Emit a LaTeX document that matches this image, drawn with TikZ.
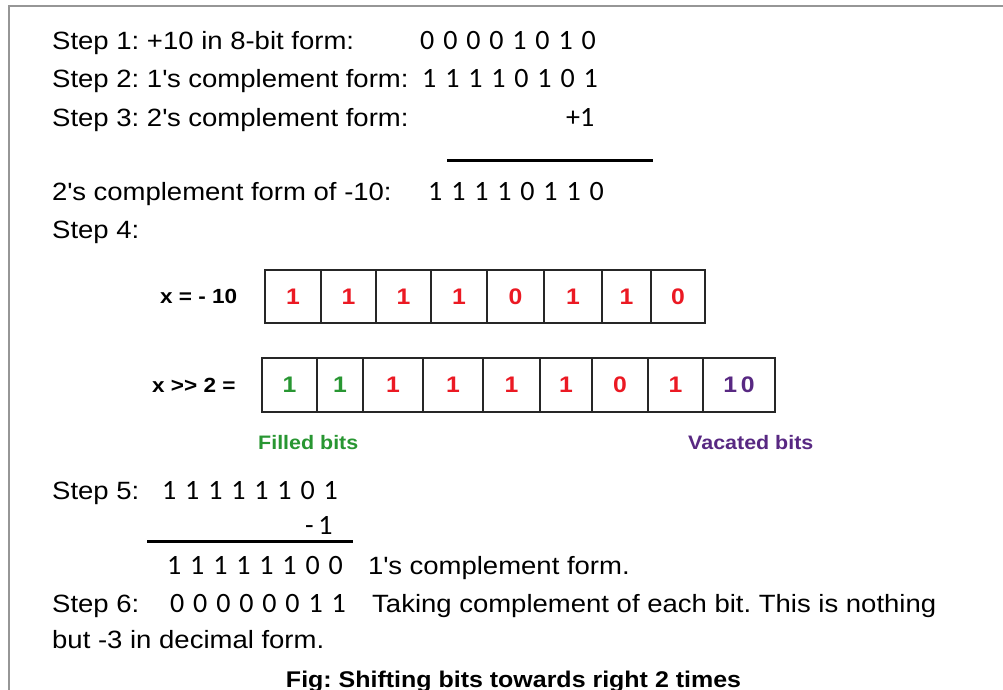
\documentclass[tikz,border=0pt]{standalone}
\usepackage{fontspec}
\setmainfont{Liberation Sans}[FakeStretch=1.1]
\newfontfamily\dig{Carlito}[WordSpace=1.4]
\newcommand{\apo}{\textquotesingle}
\frenchspacing
\definecolor{bitred}{RGB}{235,25,35}
\definecolor{bitgreen}{RGB}{40,150,50}
\definecolor{bitpurple}{RGB}{88,40,130}
\definecolor{framegray}{RGB}{150,150,150}
\begin{document}
\begin{tikzpicture}[x=1pt,y=-1pt,
  txt/.style={anchor=base west, inner sep=0, font=\fontsize{25}{30}\selectfont},
  digs/.style={anchor=base west, inner sep=0, font=\fontsize{28}{30}\selectfont\dig},
  lbl/.style={anchor=base west, inner sep=0, font=\fontsize{20.5}{24}\selectfont\bfseries},
  cell/.style={draw=black!85, line width=1.5pt, inner sep=0, minimum height=53pt, font=\fontsize{22.5}{24}\selectfont\bfseries},
  rule/.style={line width=3pt, black}]
\useasboundingbox (0,0) rectangle (1003,690);
% frame
\draw[framegray, line width=2pt] (1003,6) -- (9,6) -- (9,690);

% steps 1-3
\node[txt] (s1) at (52,50) {Step 1: +10 in 8-bit form:};
\node[digs] (d1) at (420,50) {0 0 0 0 1 0 1 0};
\node[txt] (s2) at (52,88) {Step 2: 1\apo s complement form:};
\node[digs] (d2) at (422,88) {1 1 1 1 0 1 0 1};
\node[txt] (s3) at (52,126) {Step 3: 2\apo s complement form:};
\node[digs] (d3) at (566,126) {+1};
\draw[rule] (447,160) -- (653,160);
\node[txt] (s3b) at (52,200) {2\apo s complement form of -10:};
\node[digs] (d3b) at (428,200) {1 1 1 1 0 1 1 0};
\node[txt] (s4) at (52,238) {Step 4:};

% row 1
\node[lbl] (xl) at (160,303.5) {x = - 10};
\foreach \a/\b/\v [count=\i] in {265/321/1,321/376/1,376/431/1,431/487/1,487/544/0,544/602/1,602/651/1,651/705/0}{
  \node[cell, text=bitred, minimum width={\b-\a}] (ra\i) at ({(\a+\b)/2},296.5) {\v};
}

% row 2
\node[lbl] (xr) at (152,392) {x >{}> 2 =};
\foreach \a/\b/\v/\c [count=\i] in {262/317/1/bitgreen,317/363/1/bitgreen,363/423/1/bitred,423/483/1/bitred,483/540/1/bitred,540/592/1/bitred,592/648/0/bitred,648/703/1/bitred,703/775/1\,0/bitpurple}{
  \node[cell, text=\c, minimum height=54pt, minimum width={\b-\a}] (rb\i) at ({(\a+\b)/2},385) {\v};
}
\node[lbl, text=bitgreen, font=\fontsize{19.5}{24}\selectfont\bfseries] (fb) at (258,449) {Filled bits};
\node[lbl, text=bitpurple, font=\fontsize{19.5}{24}\selectfont\bfseries] (vb) at (688,449) {Vacated bits};

% step 5
\node[txt] (s5) at (52,499) {Step 5:};
\node[digs] (d5) at (162,499) {1 1 1 1 1 1 0 1};
\node[digs] (m1) at (305,534) {-\,1};
\draw[rule] (147,541) -- (353,541);
\node[digs] (d5b) at (167,574) {1 1 1 1 1 1 0 0};
\node[txt] (c5) at (368,574) {1\apo s complement form.};

% step 6
\node[txt] (s6) at (52,612) {Step 6:};
\node[digs] (d6) at (170,612) {0 0 0 0 0 0 1 1};
\node[txt] (c6) at (372,612) {Taking complement of each bit. This is nothing};
\node[txt] (c6b) at (52,648) {but -3 in decimal form.};

% caption
\node[anchor=base, inner sep=0, font=\fontsize{22.7}{26}\selectfont\bfseries] (cap) at (513.5,687) {Fig: Shifting bits towards right 2 times};
\end{tikzpicture}
\end{document}
